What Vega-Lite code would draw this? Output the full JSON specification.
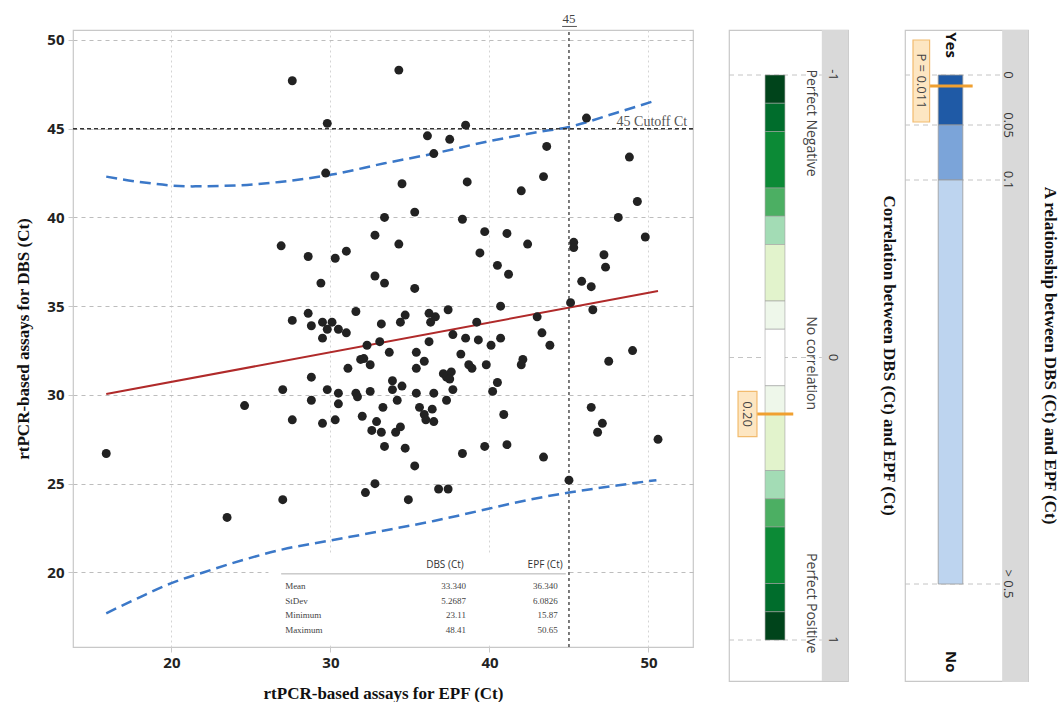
{
  "$schema": "https://vega.github.io/schema/vega-lite/v6.json",
  "background": "white",
  "padding": {"left": 14, "top": 12, "right": 0, "bottom": 0},
  "bounds": "flush",
  "spacing": 36,
  "resolve": {"scale": {"color": "independent"}},
  "config": {
    "view": {"stroke": "#c8c8c8", "strokeWidth": 1.2},
    "font": "Open Sans",
    "axis": {
      "labelFont": "Open Sans", "labelFontWeight": "bold", "labelFontSize": 15, "labelColor": "#222",
      "titleFont": "Liberation Serif", "titleFontWeight": "bold", "titleFontSize": 17, "titleColor": "#111",
      "domain": false, "tickColor": "#c8c8c8", "tickSize": 5
    }
  },
  "datasets": {
    "points": [
      {"epf":26.9,"dbs":38.4},{"epf":27.6,"dbs":47.7},{"epf":34.3,"dbs":48.3},{"epf":29.8,"dbs":45.3},{"epf":38.5,"dbs":45.2},
      {"epf":36.1,"dbs":44.6},{"epf":37.5,"dbs":44.4},{"epf":36.5,"dbs":43.6},{"epf":29.7,"dbs":42.5},{"epf":34.5,"dbs":41.9},
      {"epf":38.6,"dbs":42.0},{"epf":33.4,"dbs":40.0},{"epf":35.3,"dbs":40.3},{"epf":38.3,"dbs":39.9},{"epf":39.7,"dbs":39.2},
      {"epf":32.8,"dbs":39.0},{"epf":34.3,"dbs":38.5},{"epf":39.4,"dbs":38.0},{"epf":28.6,"dbs":37.8},{"epf":30.3,"dbs":37.7},
      {"epf":31.0,"dbs":38.1},{"epf":29.4,"dbs":36.3},{"epf":32.8,"dbs":36.7},{"epf":33.4,"dbs":36.3},{"epf":35.3,"dbs":36.0},
      {"epf":27.6,"dbs":34.2},{"epf":28.6,"dbs":34.6},{"epf":28.8,"dbs":33.9},{"epf":29.5,"dbs":34.1},{"epf":29.8,"dbs":33.7},
      {"epf":30.1,"dbs":34.1},{"epf":30.5,"dbs":33.7},{"epf":31.0,"dbs":33.5},{"epf":31.6,"dbs":34.7},{"epf":29.5,"dbs":33.2},
      {"epf":33.2,"dbs":34.0},{"epf":34.4,"dbs":34.1},{"epf":34.7,"dbs":34.5},{"epf":36.2,"dbs":34.6},{"epf":36.3,"dbs":34.1},
      {"epf":36.6,"dbs":34.4},{"epf":37.4,"dbs":34.8},{"epf":39.2,"dbs":34.1},{"epf":33.1,"dbs":33.0},{"epf":37.7,"dbs":33.4},
      {"epf":38.5,"dbs":33.2},{"epf":39.3,"dbs":33.1},
      {"epf":46.1,"dbs":45.6},{"epf":43.6,"dbs":44.0},{"epf":48.8,"dbs":43.4},{"epf":43.4,"dbs":42.3},{"epf":42.0,"dbs":41.5},
      {"epf":49.3,"dbs":40.9},{"epf":48.1,"dbs":40.0},{"epf":41.1,"dbs":39.1},{"epf":42.4,"dbs":38.5},{"epf":49.8,"dbs":38.9},
      {"epf":45.3,"dbs":38.6},{"epf":45.3,"dbs":38.3},{"epf":47.2,"dbs":37.9},{"epf":47.3,"dbs":37.2},{"epf":40.5,"dbs":37.3},
      {"epf":41.2,"dbs":36.8},{"epf":45.8,"dbs":36.4},{"epf":46.4,"dbs":36.1},{"epf":45.1,"dbs":35.2},{"epf":40.7,"dbs":35.0},
      {"epf":43.0,"dbs":34.4},{"epf":46.5,"dbs":34.8},{"epf":43.3,"dbs":33.5},{"epf":40.7,"dbs":33.2},
      {"epf":40.1,"dbs":32.8},{"epf":43.8,"dbs":32.8},{"epf":39.8,"dbs":31.7},{"epf":42.1,"dbs":32.0},{"epf":42.0,"dbs":31.7},
      {"epf":49.0,"dbs":32.5},{"epf":47.5,"dbs":31.9},{"epf":40.5,"dbs":30.7},{"epf":40.2,"dbs":30.2},{"epf":40.9,"dbs":28.9},
      {"epf":39.7,"dbs":27.1},{"epf":41.1,"dbs":27.2},{"epf":43.4,"dbs":26.5},{"epf":46.4,"dbs":29.3},{"epf":47.1,"dbs":28.4},
      {"epf":46.8,"dbs":27.9},{"epf":50.6,"dbs":27.5},{"epf":45.0,"dbs":25.2},
      {"epf":15.9,"dbs":26.7},{"epf":24.6,"dbs":29.4},{"epf":27.0,"dbs":30.3},{"epf":27.0,"dbs":24.1},{"epf":23.5,"dbs":23.1},
      {"epf":32.3,"dbs":32.8},{"epf":33.7,"dbs":32.4},{"epf":36.2,"dbs":33.0},{"epf":35.4,"dbs":32.4},{"epf":38.2,"dbs":32.3},
      {"epf":38.7,"dbs":31.7},{"epf":38.9,"dbs":31.5},{"epf":31.9,"dbs":32.0},{"epf":32.1,"dbs":32.05},{"epf":32.5,"dbs":31.7},
      {"epf":31.1,"dbs":31.5},{"epf":28.8,"dbs":31.0},{"epf":35.4,"dbs":31.5},{"epf":35.9,"dbs":31.9},{"epf":37.1,"dbs":31.2},
      {"epf":37.3,"dbs":31.0},{"epf":37.6,"dbs":31.3},{"epf":37.5,"dbs":30.9},{"epf":37.7,"dbs":30.3},{"epf":37.3,"dbs":29.7},
      {"epf":36.5,"dbs":30.1},{"epf":35.4,"dbs":30.1},{"epf":28.8,"dbs":29.7},{"epf":29.8,"dbs":30.3},{"epf":30.5,"dbs":30.1},
      {"epf":30.5,"dbs":29.5},{"epf":31.6,"dbs":30.1},{"epf":31.7,"dbs":29.9},{"epf":32.5,"dbs":30.2},{"epf":33.9,"dbs":30.8},
      {"epf":33.9,"dbs":30.3},{"epf":34.5,"dbs":30.5},{"epf":34.2,"dbs":29.7},{"epf":33.3,"dbs":29.3},{"epf":32.0,"dbs":28.8},
      {"epf":32.9,"dbs":28.5},{"epf":32.6,"dbs":28.0},{"epf":33.2,"dbs":27.9},{"epf":34.1,"dbs":27.9},{"epf":34.4,"dbs":28.2},
      {"epf":35.6,"dbs":29.3},{"epf":35.9,"dbs":28.9},{"epf":36.0,"dbs":28.6},{"epf":36.4,"dbs":29.2},{"epf":36.5,"dbs":28.5},
      {"epf":27.6,"dbs":28.6},{"epf":29.5,"dbs":28.4},{"epf":30.3,"dbs":28.6},{"epf":33.4,"dbs":27.1},{"epf":34.7,"dbs":27.0},
      {"epf":35.3,"dbs":26.0},{"epf":38.3,"dbs":26.7},{"epf":32.8,"dbs":25.0},{"epf":32.2,"dbs":24.5},{"epf":34.9,"dbs":24.1},
      {"epf":36.8,"dbs":24.7},{"epf":37.4,"dbs":24.7}
    ],
    "upper": [
      {"epf":15.9,"dbs":42.3},{"epf":18,"dbs":42.0},{"epf":21.3,"dbs":41.75},{"epf":24,"dbs":41.8},{"epf":26.8,"dbs":42.0},
      {"epf":30,"dbs":42.4},{"epf":33.4,"dbs":43.05},{"epf":36.5,"dbs":43.6},{"epf":40,"dbs":44.3},{"epf":43,"dbs":44.8},
      {"epf":45,"dbs":45.1},{"epf":48,"dbs":45.9},{"epf":50.5,"dbs":46.6}
    ],
    "lower": [
      {"epf":15.9,"dbs":17.7},{"epf":18,"dbs":18.6},{"epf":20,"dbs":19.4},{"epf":22,"dbs":20.0},{"epf":24.5,"dbs":20.7},
      {"epf":27,"dbs":21.3},{"epf":30,"dbs":21.8},{"epf":33,"dbs":22.3},{"epf":36.5,"dbs":22.9},{"epf":40,"dbs":23.6},
      {"epf":42.5,"dbs":24.1},{"epf":45,"dbs":24.5},{"epf":48,"dbs":24.9},{"epf":50.5,"dbs":25.2}
    ],
    "reg": [{"epf":15.9,"dbs":30.05},{"epf":50.6,"dbs":35.85}],
    "table": [
      {"stat":"Mean","dbs":"33.340","epf":"36.340"},
      {"stat":"StDev","dbs":"5.2687","epf":"6.0826"},
      {"stat":"Minimum","dbs":"23.11","epf":"15.87"},
      {"stat":"Maximum","dbs":"48.41","epf":"50.65"}
    ],
    "corr": [
      {"lo":-1,"hi":-0.9,"level":7},{"lo":-0.9,"hi":-0.8,"level":6},{"lo":-0.8,"hi":-0.6,"level":5},{"lo":-0.6,"hi":-0.5,"level":4},
      {"lo":-0.5,"hi":-0.4,"level":3},{"lo":-0.4,"hi":-0.2,"level":2},{"lo":-0.2,"hi":-0.1,"level":1},{"lo":-0.1,"hi":0.1,"level":0},
      {"lo":0.1,"hi":0.2,"level":1},{"lo":0.2,"hi":0.4,"level":2},{"lo":0.4,"hi":0.5,"level":3},{"lo":0.5,"hi":0.6,"level":4},
      {"lo":0.6,"hi":0.8,"level":5},{"lo":0.8,"hi":0.9,"level":6},{"lo":0.9,"hi":1,"level":7}
    ]
  },
  "hconcat": [
    {
      "width": 620,
      "height": 617,
      "resolve": {"axis": {"x": "independent", "y": "independent"}},
      "layer": [
        {
          "data": {"name": "points"},
          "mark": {"type": "circle", "size": 0, "opacity": 0},
          "encoding": {
            "x": {"field": "epf", "type": "quantitative", "scale": {"domain": [13.81, 52.8], "nice": false, "zero": false},
                  "axis": {"values": [20, 30, 40, 50], "title": "rtPCR-based assays for EPF (Ct)", "grid": true, "gridDash": [2, 3], "gridColor": "#d4d4d4", "labelPadding": 3, "titlePadding": 15}},
            "y": {"field": "dbs", "type": "quantitative", "scale": {"domain": [15.8, 50.56], "nice": false, "zero": false},
                  "axis": {"values": [20, 25, 30, 35, 40, 45, 50], "title": "rtPCR-based assays for DBS (Ct)", "grid": true, "gridDash": [4, 4], "gridColor": "#bdbdbd", "labelPadding": 4, "titlePadding": 14}}
          }
        },
        {
          "data": {"values": [{}]},
          "mark": {"type": "rect", "fill": "white"},
          "encoding": {
            "x": {"datum": 26.1, "type": "quantitative", "scale": {"domain": [13.81, 52.8], "nice": false, "zero": false}, "axis": null},
            "x2": {"datum": 44.85},
            "y": {"datum": 21.0, "type": "quantitative", "scale": {"domain": [15.8, 50.56], "nice": false, "zero": false}, "axis": null},
            "y2": {"datum": 15.9}
          }
        },
        {
          "data": {"values": [{}]},
          "mark": {"type": "rule", "color": "#b0b0b0", "strokeWidth": 1},
          "encoding": {
            "x": {"datum": 26.9, "type": "quantitative", "scale": {"domain": [13.81, 52.8], "nice": false, "zero": false}, "axis": null},
            "x2": {"datum": 44.8},
            "y": {"datum": 19.92, "type": "quantitative", "scale": {"domain": [15.8, 50.56], "nice": false, "zero": false}, "axis": null}
          }
        },
        {
          "data": {"values": [{"h": "DBS (Ct)"}]},
          "mark": {"type": "text", "font": "Open Sans", "fontSize": 10, "color": "#333", "baseline": "middle", "align": "center"},
          "encoding": {
            "text": {"field": "h"},
            "x": {"datum": 37.2, "type": "quantitative", "scale": {"domain": [13.81, 52.8], "nice": false, "zero": false}, "axis": null},
            "y": {"datum": 20.42, "type": "quantitative", "scale": {"domain": [15.8, 50.56], "nice": false, "zero": false}, "axis": null}
          }
        },
        {
          "data": {"values": [{"h": "EPF (Ct)"}]},
          "mark": {"type": "text", "font": "Open Sans", "fontSize": 10, "color": "#333", "baseline": "middle", "align": "center"},
          "encoding": {
            "text": {"field": "h"},
            "x": {"datum": 43.5, "type": "quantitative", "scale": {"domain": [13.81, 52.8], "nice": false, "zero": false}, "axis": null},
            "y": {"datum": 20.42, "type": "quantitative", "scale": {"domain": [15.8, 50.56], "nice": false, "zero": false}, "axis": null}
          }
        },
        {
          "data": {"name": "table"},
          "mark": {"type": "text", "font": "Liberation Serif", "fontSize": 9, "color": "#444", "baseline": "middle", "align": "left"},
          "encoding": {
            "text": {"field": "stat"},
            "x": {"datum": 27.15, "type": "quantitative", "scale": {"domain": [13.81, 52.8], "nice": false, "zero": false}, "axis": null},
            "y": {"datum": 19.24, "type": "quantitative", "scale": {"domain": [15.8, 50.56], "nice": false, "zero": false}, "axis": null},
            "yOffset": {"field": "stat", "type": "ordinal", "sort": ["Mean", "StDev", "Minimum", "Maximum"], "scale": {"type": "point", "range": [0, 44], "padding": 0}}
          }
        },
        {
          "data": {"name": "table"},
          "mark": {"type": "text", "font": "Liberation Serif", "fontSize": 9, "color": "#444", "baseline": "middle", "align": "right"},
          "encoding": {
            "text": {"field": "dbs"},
            "x": {"datum": 38.52, "type": "quantitative", "scale": {"domain": [13.81, 52.8], "nice": false, "zero": false}, "axis": null},
            "y": {"datum": 19.24, "type": "quantitative", "scale": {"domain": [15.8, 50.56], "nice": false, "zero": false}, "axis": null},
            "yOffset": {"field": "stat", "type": "ordinal", "sort": ["Mean", "StDev", "Minimum", "Maximum"], "scale": {"type": "point", "range": [0, 44], "padding": 0}}
          }
        },
        {
          "data": {"name": "table"},
          "mark": {"type": "text", "font": "Liberation Serif", "fontSize": 9, "color": "#444", "baseline": "middle", "align": "right"},
          "encoding": {
            "text": {"field": "epf"},
            "x": {"datum": 44.3, "type": "quantitative", "scale": {"domain": [13.81, 52.8], "nice": false, "zero": false}, "axis": null},
            "y": {"datum": 19.24, "type": "quantitative", "scale": {"domain": [15.8, 50.56], "nice": false, "zero": false}, "axis": null},
            "yOffset": {"field": "stat", "type": "ordinal", "sort": ["Mean", "StDev", "Minimum", "Maximum"], "scale": {"type": "point", "range": [0, 44], "padding": 0}}
          }
        },
        {
          "data": {"name": "upper"},
          "mark": {"type": "line", "color": "#3b78c8", "strokeWidth": 2.5, "strokeDash": [11, 6], "interpolate": "monotone"},
          "encoding": {
            "x": {"field": "epf", "type": "quantitative", "scale": {"domain": [13.81, 52.8], "nice": false, "zero": false}, "axis": null},
            "y": {"field": "dbs", "type": "quantitative", "scale": {"domain": [15.8, 50.56], "nice": false, "zero": false}, "axis": null}
          }
        },
        {
          "data": {"name": "lower"},
          "mark": {"type": "line", "color": "#3b78c8", "strokeWidth": 2.5, "strokeDash": [11, 6], "interpolate": "monotone"},
          "encoding": {
            "x": {"field": "epf", "type": "quantitative", "scale": {"domain": [13.81, 52.8], "nice": false, "zero": false}, "axis": null},
            "y": {"field": "dbs", "type": "quantitative", "scale": {"domain": [15.8, 50.56], "nice": false, "zero": false}, "axis": null}
          }
        },
        {
          "data": {"name": "reg"},
          "mark": {"type": "line", "color": "#b02a2a", "strokeWidth": 2},
          "encoding": {
            "x": {"field": "epf", "type": "quantitative", "scale": {"domain": [13.81, 52.8], "nice": false, "zero": false}, "axis": null},
            "y": {"field": "dbs", "type": "quantitative", "scale": {"domain": [15.8, 50.56], "nice": false, "zero": false}, "axis": null}
          }
        },
        {
          "data": {"values": [{}]},
          "mark": {"type": "rule", "color": "#333", "strokeWidth": 1.4, "strokeDash": [4, 3]},
          "encoding": {
            "x": {"datum": 13.81, "type": "quantitative", "scale": {"domain": [13.81, 52.8], "nice": false, "zero": false}, "axis": null},
            "x2": {"datum": 52.8},
            "y": {"datum": 45, "type": "quantitative", "scale": {"domain": [15.8, 50.56], "nice": false, "zero": false}, "axis": null}
          }
        },
        {
          "data": {"values": [{}]},
          "mark": {"type": "rule", "color": "#444", "strokeWidth": 1.4, "strokeDash": [3, 3]},
          "encoding": {
            "x": {"datum": 45, "type": "quantitative", "scale": {"domain": [13.81, 52.8], "nice": false, "zero": false}, "axis": null},
            "y": {"datum": 15.8, "type": "quantitative", "scale": {"domain": [15.8, 50.56], "nice": false, "zero": false}, "axis": null},
            "y2": {"datum": 50.56}
          }
        },
        {
          "data": {"values": [{"t": "45 Cutoff Ct"}]},
          "mark": {"type": "text", "font": "Liberation Serif", "fontSize": 14, "color": "#555", "align": "right", "baseline": "alphabetic", "dy": -3},
          "encoding": {
            "text": {"field": "t"},
            "x": {"datum": 52.43, "type": "quantitative", "scale": {"domain": [13.81, 52.8], "nice": false, "zero": false}, "axis": null},
            "y": {"datum": 45, "type": "quantitative", "scale": {"domain": [15.8, 50.56], "nice": false, "zero": false}, "axis": null}
          }
        },
        {
          "data": {"values": [{"t": "45"}]},
          "mark": {"type": "text", "font": "Liberation Serif", "fontSize": 13, "color": "#444", "align": "center", "baseline": "middle"},
          "encoding": {
            "text": {"field": "t"},
            "x": {"datum": 45, "type": "quantitative", "scale": {"domain": [13.81, 52.8], "nice": false, "zero": false}, "axis": null},
            "y": {"datum": 51.2, "type": "quantitative", "scale": {"domain": [15.8, 50.56], "nice": false, "zero": false}, "axis": null}
          }
        },
        {
          "data": {"values": [{}]},
          "mark": {"type": "rule", "color": "#555", "strokeWidth": 1},
          "encoding": {
            "x": {"datum": 44.57, "type": "quantitative", "scale": {"domain": [13.81, 52.8], "nice": false, "zero": false}, "axis": null},
            "x2": {"datum": 45.5},
            "y": {"datum": 50.76, "type": "quantitative", "scale": {"domain": [15.8, 50.56], "nice": false, "zero": false}, "axis": null}
          }
        },
        {
          "data": {"name": "points"},
          "mark": {"type": "circle", "size": 80, "color": "#222", "opacity": 1},
          "encoding": {
            "x": {"field": "epf", "type": "quantitative", "scale": {"domain": [13.81, 52.8], "nice": false, "zero": false}, "axis": null},
            "y": {"field": "dbs", "type": "quantitative", "scale": {"domain": [15.8, 50.56], "nice": false, "zero": false}, "axis": null}
          }
        }
      ]
    },
    {
      "bounds": "flush",
      "spacing": 57,
      "resolve": {"scale": {"color": "independent"}},
      "hconcat": [
        {
          "width": 119,
          "height": 651,
          "title": {"text": "Correlation between DBS (Ct) and EPF (Ct)", "orient": "right", "anchor": "middle", "font": "Liberation Serif", "fontSize": 17, "fontWeight": "bold", "color": "#111", "offset": 32},
          "layer": [
            {
              "data": {"values": [{}]},
              "mark": {"type": "rect", "fill": "#d9d9d9"},
              "encoding": {
                "x": {"datum": 0.78, "type": "quantitative", "scale": {"domain": [0, 1], "nice": false, "zero": false}, "axis": null},
                "x2": {"datum": 1},
                "y": {"datum": -1.159, "type": "quantitative", "scale": {"domain": [-1, 1], "range": [45, 610], "nice": false, "zero": false}, "axis": null},
                "y2": {"datum": 1.145}
              }
            },
            {
              "data": {"values": [{"r": -1}, {"r": 0}, {"r": 1}]},
              "mark": {"type": "rule", "color": "#c4c4c4", "strokeWidth": 1, "strokeDash": [5, 4]},
              "encoding": {
                "x": {"datum": 0, "type": "quantitative", "scale": {"domain": [0, 1], "nice": false, "zero": false}, "axis": null},
                "x2": {"datum": 0.78},
                "y": {"field": "r", "type": "quantitative", "scale": {"domain": [-1, 1], "range": [45, 610], "nice": false, "zero": false}, "axis": null}
              }
            },
            {
              "data": {"name": "corr"},
              "mark": {"type": "rect", "stroke": "#a0a0a0", "strokeWidth": 0.6},
              "encoding": {
                "x": {"datum": 0.303, "type": "quantitative", "scale": {"domain": [0, 1], "nice": false, "zero": false}, "axis": null},
                "x2": {"datum": 0.47},
                "y": {"field": "lo", "type": "quantitative", "scale": {"domain": [-1, 1], "range": [45, 610], "nice": false, "zero": false}, "axis": null},
                "y2": {"field": "hi"},
                "color": {"field": "level", "type": "ordinal", "legend": null,
                          "scale": {"domain": [0, 1, 2, 3, 4, 5, 6, 7], "range": ["#ffffff", "#eef7ea", "#e2f3cc", "#a3dcb5", "#4caf63", "#0c8a36", "#006d2c", "#00441b"]}}
              }
            },
            {
              "data": {"values": [{"r": -1, "t": "-1"}, {"r": 0, "t": "0"}, {"r": 1, "t": "1"}]},
              "mark": {"type": "text", "angle": 90, "font": "Open Sans", "fontSize": 13, "color": "#333", "align": "center", "baseline": "middle"},
              "encoding": {
                "text": {"field": "t"},
                "x": {"datum": 0.87, "type": "quantitative", "scale": {"domain": [0, 1], "nice": false, "zero": false}, "axis": null},
                "y": {"field": "r", "type": "quantitative", "scale": {"domain": [-1, 1], "range": [45, 610], "nice": false, "zero": false}, "axis": null}
              }
            },
            {
              "data": {"values": [{"r": -0.83, "t": "Perfect Negative"}, {"r": 0.02, "t": "No correlation"}, {"r": 0.87, "t": "Perfect Positive"}]},
              "mark": {"type": "text", "angle": 90, "font": "Open Sans", "fontSize": 14, "color": "#444", "align": "center", "baseline": "middle"},
              "encoding": {
                "text": {"field": "t"},
                "x": {"datum": 0.69, "type": "quantitative", "scale": {"domain": [0, 1], "nice": false, "zero": false}, "axis": null},
                "y": {"field": "r", "type": "quantitative", "scale": {"domain": [-1, 1], "range": [45, 610], "nice": false, "zero": false}, "axis": null}
              }
            },
            {
              "data": {"values": [{"r": 0.2}]},
              "mark": {"type": "rule", "color": "#f0a030", "strokeWidth": 3},
              "encoding": {
                "x": {"datum": 0.2, "type": "quantitative", "scale": {"domain": [0, 1], "nice": false, "zero": false}, "axis": null},
                "x2": {"datum": 0.54},
                "y": {"field": "r", "type": "quantitative", "scale": {"domain": [-1, 1], "range": [45, 610], "nice": false, "zero": false}, "axis": null}
              }
            },
            {
              "data": {"values": [{}]},
              "mark": {"type": "rect", "fill": "#fde6c2", "stroke": "#f2bb6e", "strokeWidth": 1.2},
              "encoding": {
                "x": {"datum": 0.076, "type": "quantitative", "scale": {"domain": [0, 1], "nice": false, "zero": false}, "axis": null},
                "x2": {"datum": 0.235},
                "y": {"datum": 0.12, "type": "quantitative", "scale": {"domain": [-1, 1], "range": [45, 610], "nice": false, "zero": false}, "axis": null},
                "y2": {"datum": 0.28}
              }
            },
            {
              "data": {"values": [{"r": 0.2, "t": "0.20"}]},
              "mark": {"type": "text", "angle": 90, "font": "Open Sans", "fontSize": 13, "color": "#444", "align": "center", "baseline": "middle"},
              "encoding": {
                "text": {"field": "t"},
                "x": {"datum": 0.155, "type": "quantitative", "scale": {"domain": [0, 1], "nice": false, "zero": false}, "axis": null},
                "y": {"field": "r", "type": "quantitative", "scale": {"domain": [-1, 1], "range": [45, 610], "nice": false, "zero": false}, "axis": null}
              }
            }
          ]
        },
        {
          "width": 123,
          "height": 651,
          "title": {"text": "A relationship between DBS (Ct) and EPF (Ct)", "orient": "right", "anchor": "middle", "font": "Liberation Serif", "fontSize": 17, "fontWeight": "bold", "color": "#111", "offset": 13},
          "layer": [
            {
              "data": {"values": [{}]},
              "mark": {"type": "rect", "fill": "#d9d9d9"},
              "encoding": {
                "x": {"datum": 0.79, "type": "quantitative", "scale": {"domain": [0, 1], "nice": false, "zero": false}, "axis": null},
                "x2": {"datum": 1},
                "y": {"datum": -0.045, "type": "quantitative", "scale": {"domain": [0, 0.05, 0.1, 0.5], "range": [45, 95, 150, 554], "nice": false, "zero": false}, "axis": null},
                "y2": {"datum": 0.597}
              }
            },
            {
              "data": {"values": [{"p": 0}, {"p": 0.05}, {"p": 0.1}, {"p": 0.5}]},
              "mark": {"type": "rule", "color": "#c4c4c4", "strokeWidth": 1, "strokeDash": [5, 4]},
              "encoding": {
                "x": {"datum": 0, "type": "quantitative", "scale": {"domain": [0, 1], "nice": false, "zero": false}, "axis": null},
                "x2": {"datum": 0.79},
                "y": {"field": "p", "type": "quantitative", "scale": {"domain": [0, 0.05, 0.1, 0.5], "range": [45, 95, 150, 554], "nice": false, "zero": false}, "axis": null}
              }
            },
            {
              "data": {"values": [{"lo": 0, "hi": 0.05, "sig": "a"}, {"lo": 0.05, "hi": 0.1, "sig": "b"}, {"lo": 0.1, "hi": 0.5, "sig": "c"}]},
              "mark": {"type": "rect", "stroke": "#9a9a9a", "strokeWidth": 0.8},
              "encoding": {
                "x": {"datum": 0.27, "type": "quantitative", "scale": {"domain": [0, 1], "nice": false, "zero": false}, "axis": null},
                "x2": {"datum": 0.47},
                "y": {"field": "lo", "type": "quantitative", "scale": {"domain": [0, 0.05, 0.1, 0.5], "range": [45, 95, 150, 554], "nice": false, "zero": false}, "axis": null},
                "y2": {"field": "hi"},
                "color": {"field": "sig", "type": "nominal", "legend": null, "scale": {"domain": ["a", "b", "c"], "range": ["#1f5aa6", "#7ba4d9", "#bdd4ef"]}}
              }
            },
            {
              "data": {"values": [{"p": 0, "t": "0"}, {"p": 0.05, "t": "0.05"}, {"p": 0.1, "t": "0.1"}, {"p": 0.5, "t": "> 0.5"}]},
              "mark": {"type": "text", "angle": 90, "font": "Open Sans", "fontSize": 13, "color": "#333", "align": "center", "baseline": "middle"},
              "encoding": {
                "text": {"field": "t"},
                "x": {"datum": 0.84, "type": "quantitative", "scale": {"domain": [0, 1], "nice": false, "zero": false}, "axis": null},
                "y": {"field": "p", "type": "quantitative", "scale": {"domain": [0, 0.05, 0.1, 0.5], "range": [45, 95, 150, 554], "nice": false, "zero": false}, "axis": null}
              }
            },
            {
              "data": {"values": [{"p": -0.03, "t": "Yes"}, {"p": 0.577, "t": "No"}]},
              "mark": {"type": "text", "angle": 90, "font": "Open Sans", "fontSize": 15, "fontWeight": "bold", "color": "#111", "align": "center", "baseline": "middle"},
              "encoding": {
                "text": {"field": "t"},
                "x": {"datum": 0.37, "type": "quantitative", "scale": {"domain": [0, 1], "nice": false, "zero": false}, "axis": null},
                "y": {"field": "p", "type": "quantitative", "scale": {"domain": [0, 0.05, 0.1, 0.5], "range": [45, 95, 150, 554], "nice": false, "zero": false}, "axis": null}
              }
            },
            {
              "data": {"values": [{"p": 0.011}]},
              "mark": {"type": "rule", "color": "#f0a030", "strokeWidth": 3},
              "encoding": {
                "x": {"datum": 0.2, "type": "quantitative", "scale": {"domain": [0, 1], "nice": false, "zero": false}, "axis": null},
                "x2": {"datum": 0.55},
                "y": {"field": "p", "type": "quantitative", "scale": {"domain": [0, 0.05, 0.1, 0.5], "range": [45, 95, 150, 554], "nice": false, "zero": false}, "axis": null}
              }
            },
            {
              "data": {"values": [{}]},
              "mark": {"type": "rect", "fill": "#fde6c2", "stroke": "#f2bb6e", "strokeWidth": 1.2},
              "encoding": {
                "x": {"datum": 0.065, "type": "quantitative", "scale": {"domain": [0, 1], "nice": false, "zero": false}, "axis": null},
                "x2": {"datum": 0.2},
                "y": {"datum": -0.035, "type": "quantitative", "scale": {"domain": [0, 0.05, 0.1, 0.5], "range": [45, 95, 150, 554], "nice": false, "zero": false}, "axis": null},
                "y2": {"datum": 0.047}
              }
            },
            {
              "data": {"values": [{"t": "P = 0.011"}]},
              "mark": {"type": "text", "angle": 90, "font": "Open Sans", "fontSize": 13, "color": "#444", "align": "center", "baseline": "middle"},
              "encoding": {
                "text": {"field": "t"},
                "x": {"datum": 0.133, "type": "quantitative", "scale": {"domain": [0, 1], "nice": false, "zero": false}, "axis": null},
                "y": {"datum": 0.006, "type": "quantitative", "scale": {"domain": [0, 0.05, 0.1, 0.5], "range": [45, 95, 150, 554], "nice": false, "zero": false}, "axis": null}
              }
            }
          ]
        }
      ]
    }
  ]
}
